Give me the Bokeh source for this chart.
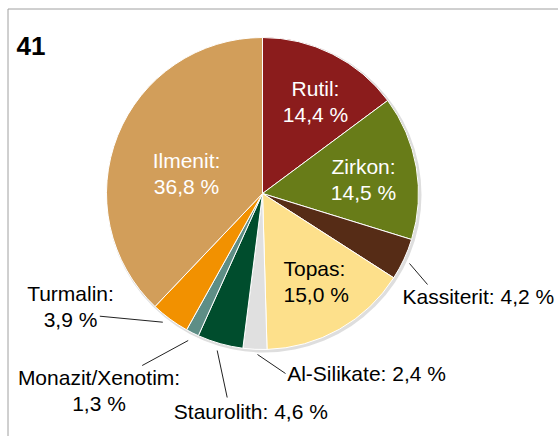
import math
from bokeh.plotting import figure
from bokeh.models import Range1d, ColumnDataSource
from bokeh.core.properties import value
from bokeh.embed import file_html
from bokeh.resources import INLINE

# ---- data ----
names = ["Rutil", "Zirkon", "Kassiterit", "Topas", "Al-Silikate",
         "Staurolith", "Monazit/Xenotim", "Turmalin", "Ilmenit"]
values = [14.4, 14.5, 4.2, 15.0, 2.4, 4.6, 1.3, 3.9, 36.8]
colors = ["#8B1C1C", "#687C18", "#562C16", "#FDE08B", "#E0E0E0",
          "#004D2D", "#5E8E86", "#F29100", "#D29E5A"]
chart_number = "41"

# ---- layout (reference pixel coordinates, y measured from top) ----
W, H = 558, 436
CX, CY, R = 262, 193, 156
TEXT_SHIFT = 7  # compensate baseline placement of the svg text


def Y(ref_y):
    return H - ref_y


def fmt(v):
    return f"{v:.1f}".replace(".", ",") + " %"


p = figure(width=W, height=H, x_range=Range1d(0, W), y_range=Range1d(0, H),
           output_backend="svg", toolbar_location=None, min_border=0)
p.xaxis.visible = False
p.yaxis.visible = False
p.grid.visible = False
p.outline_line_color = None
p.background_fill_color = "white"
p.border_fill_color = "white"

# frame lines (top and left)
p.line(x=[7.5, W], y=[Y(8.5), Y(8.5)], line_color="#a0a0a0", line_width=1)
p.line(x=[7.5, 7.5], y=[Y(8.5), 0], line_color="#a0a0a0", line_width=1)

# soft shadow
p.circle(x=[CX + 1.5], y=[Y(CY) - 1.5], radius=R + 1.5, fill_color="#bdbdbd",
         fill_alpha=0.5, line_color=None)

total = sum(values)
starts, ends = [], []
cum = 0.0
for v in values:
    starts.append(math.pi / 2 - 2 * math.pi * cum / total)
    cum += v
    ends.append(math.pi / 2 - 2 * math.pi * cum / total)

src = ColumnDataSource(dict(start=starts, end=ends, color=colors))
p.wedge(x=CX, y=Y(CY), radius=R, start_angle="start", end_angle="end",
        direction="clock", fill_color="color", line_color="white",
        line_width=1, source=src)

# leader lines for outside labels
leaders = {
    "Kassiterit": [(409, 263), (427, 284)],
    "Al-Silikate": [(257, 354), (285, 373)],
    "Staurolith": [(216.7, 350), (226.7, 397)],
    "Monazit/Xenotim": [(187.7, 340), (141.7, 365)],
    "Turmalin": [(162.3, 321.7), (99.3, 315.7)],
}
for (a, b) in leaders.values():
    p.line(x=[a[0], b[0]], y=[Y(a[1]), Y(b[1])], line_color="#222222", line_width=1)

# labels: (x, baseline y of first line, align, two-line?, color)
label_pos = {
    "Rutil": (315, 95, "center", True, "white"),
    "Zirkon": (363, 172.7, "center", True, "white"),
    "Kassiterit": (402, 302.7, "left", False, "black"),
    "Topas": (283, 274.7, "left", True, "black"),
    "Al-Silikate": (286.7, 380, "left", False, "black"),
    "Staurolith": (173.3, 417.5, "left", False, "black"),
    "Monazit/Xenotim": (98.5, 384.3, "center", True, "black"),
    "Turmalin": (70, 300, "center", True, "black"),
    "Ilmenit": (186, 166.7, "center", True, "white"),
}
font = value("Liberation Sans")
for n, v in zip(names, values):
    x, by, align, two, col = label_pos[n]
    by -= TEXT_SHIFT
    if two:
        texts = [n + ":", fmt(v)]
        ys = [Y(by), Y(by + 26)]
        xs = [x, x]
    else:
        texts = [n + ": " + fmt(v)]
        ys = [Y(by)]
        xs = [x]
    p.text(x=xs, y=ys, text=texts, text_font=font, text_font_size="21px",
           text_align=align, text_baseline="alphabetic", text_color=col)

p.text(x=[16], y=[Y(52 - TEXT_SHIFT)], text=[chart_number], text_font=font,
       text_font_size="26px", text_font_style="bold", text_align="left",
       text_baseline="alphabetic", text_color="black")

open("out.html", "w").write(file_html(p, INLINE))
